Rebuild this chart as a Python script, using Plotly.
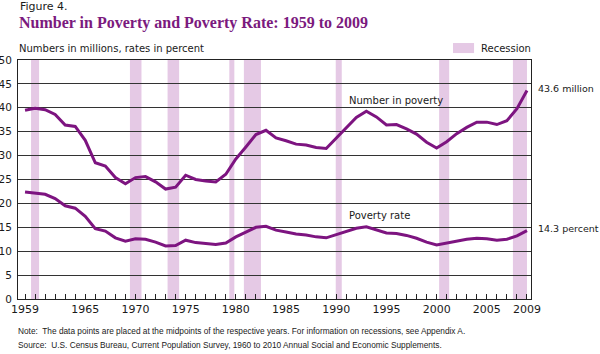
import plotly.graph_objects as go

years = list(range(1959, 2010))
number_in_poverty = [39.5, 39.9, 39.6, 38.6, 36.4, 36.1, 33.2, 28.5, 27.8, 25.4,
                     24.1, 25.4, 25.6, 24.5, 23.0, 23.4, 25.9, 25.0, 24.7, 24.5,
                     26.1, 29.3, 31.8, 34.4, 35.3, 33.7, 33.1, 32.4, 32.2, 31.7,
                     31.5, 33.6, 35.7, 38.0, 39.3, 38.1, 36.4, 36.5, 35.6, 34.5,
                     32.8, 31.6, 32.9, 34.6, 35.9, 37.0, 37.0, 36.5, 37.3, 39.8,
                     43.6]
poverty_rate = [22.4, 22.2, 21.9, 21.0, 19.5, 19.0, 17.3, 14.7, 14.2, 12.8,
                12.1, 12.6, 12.5, 11.9, 11.1, 11.2, 12.3, 11.8, 11.6, 11.4,
                11.7, 13.0, 14.0, 15.0, 15.2, 14.4, 14.0, 13.6, 13.4, 13.0,
                12.8, 13.5, 14.2, 14.8, 15.1, 14.5, 13.8, 13.7, 13.3, 12.7,
                11.9, 11.3, 11.7, 12.1, 12.5, 12.7, 12.6, 12.3, 12.5, 13.2,
                14.3]
recession_start = [1959.6, 1969.45, 1973.2, 1979.35, 1980.8, 1989.95, 2000.25, 2007.6]
recession_end = [1960.4, 1970.6, 1974.35, 1979.85, 1982.5, 1990.55, 2001.25, 2009.0]
tick_years = list(range(1959, 2010))
labeled_years = [1959, 1965, 1970, 1975, 1980, 1985, 1990, 1995, 2000, 2005, 2009]

LINE = "#7d1480"
BAND = "#e5c9e5"
TITLE = "#7b1a7e"
TXT = "#1a1a1a"

fig = go.Figure()
fig.add_trace(go.Scatter(x=years, y=number_in_poverty, mode="lines",
                         line=dict(color=LINE, width=3), showlegend=False))
fig.add_trace(go.Scatter(x=years, y=poverty_rate, mode="lines",
                         line=dict(color=LINE, width=3), showlegend=False))

shapes = []
for s, e in zip(recession_start, recession_end):
    shapes.append(dict(type="rect", xref="x", yref="paper", x0=s, x1=e, y0=0, y1=1,
                       fillcolor=BAND, line=dict(width=0), layer="below"))
# legend swatch
shapes.append(dict(type="rect", xref="paper", yref="paper", x0=0.848, x1=0.889,
                   y0=1.029, y1=1.071, fillcolor=BAND, line=dict(width=0)))
fig.update_layout(shapes=shapes)

ticktext = [str(y) if y in labeled_years else "" for y in tick_years]

fig.update_layout(
    width=600, height=354,
    margin=dict(l=18, r=69, t=60, b=55),
    paper_bgcolor="white", plot_bgcolor="rgba(0,0,0,0)",
    font=dict(family="DejaVu Sans", size=11, color=TXT),
    xaxis=dict(range=[1958.3, 2009.4], tickvals=tick_years, ticktext=ticktext,
               ticks="inside", ticklen=5, tickcolor="#222", tickwidth=1,
               showgrid=False, showline=True, linecolor="#222", linewidth=1,
               mirror=True, zeroline=False, tickfont=dict(size=11), tickangle=0,
               automargin=False),
    yaxis=dict(range=[0, 50], dtick=5, showgrid=True, gridcolor="#333", gridwidth=1,
               showline=True, linecolor="#222", linewidth=1, mirror=True,
               zeroline=False, ticks="", tickfont=dict(size=10.5), automargin=False,
               ticklabelstandoff=3),
)

ann = []
ann.append(dict(text="Figure 4.", xref="paper", yref="paper", x=0.0, y=1.222,
                xanchor="left", yanchor="middle", showarrow=False,
                font=dict(family="DejaVu Sans", size=11, color=TXT)))
ann.append(dict(text="<b>Number in Poverty and Poverty Rate: 1959 to 2009</b>", xref="paper",
                yref="paper", x=-0.002, y=1.156, xanchor="left", yanchor="middle",
                showarrow=False, font=dict(family="Liberation Serif", size=16, color=TITLE)))
ann.append(dict(text="Numbers in millions, rates in percent", xref="paper", yref="paper",
                x=-0.002, y=1.050, xanchor="left", yanchor="middle", showarrow=False,
                font=dict(family="DejaVu Sans", size=10, color=TXT)))
ann.append(dict(text="Recession", xref="paper", yref="paper", x=0.898, y=1.050,
                xanchor="left", yanchor="middle", showarrow=False,
                font=dict(family="DejaVu Sans", size=10, color=TXT)))
ann.append(dict(text="Number in poverty", xref="x", yref="y", x=1991.1, y=41.6,
                xanchor="left", yanchor="middle", showarrow=False,
                font=dict(family="DejaVu Sans", size=10, color=TXT)))
ann.append(dict(text="Poverty rate", xref="x", yref="y", x=1991.1, y=17.4,
                xanchor="left", yanchor="middle", showarrow=False,
                font=dict(family="DejaVu Sans", size=10, color=TXT)))
ann.append(dict(text="43.6 million", xref="paper", yref="y", x=1.010, y=44.1,
                xanchor="left", yanchor="middle", showarrow=False,
                font=dict(family="DejaVu Sans", size=9.5, color=TXT)))
ann.append(dict(text="14.3 percent", xref="paper", yref="y", x=1.010, y=14.85,
                xanchor="left", yanchor="middle", showarrow=False,
                font=dict(family="DejaVu Sans", size=9.5, color=TXT)))
ann.append(dict(text="Note:  The data points are placed at the midpoints of the respective years. For information on recessions, see Appendix A.",
                xref="paper", yref="paper", x=-0.004, y=-0.134, xanchor="left", yanchor="middle",
                showarrow=False, font=dict(family="Liberation Sans", size=8.3, color=TXT)))
ann.append(dict(text="Source:  U.S. Census Bureau, Current Population Survey, 1960 to 2010 Annual Social and Economic Supplements.",
                xref="paper", yref="paper", x=-0.004, y=-0.192, xanchor="left", yanchor="middle",
                showarrow=False, font=dict(family="Liberation Sans", size=8.3, color=TXT)))
fig.update_layout(annotations=ann)

fig.write_html("out.html")
